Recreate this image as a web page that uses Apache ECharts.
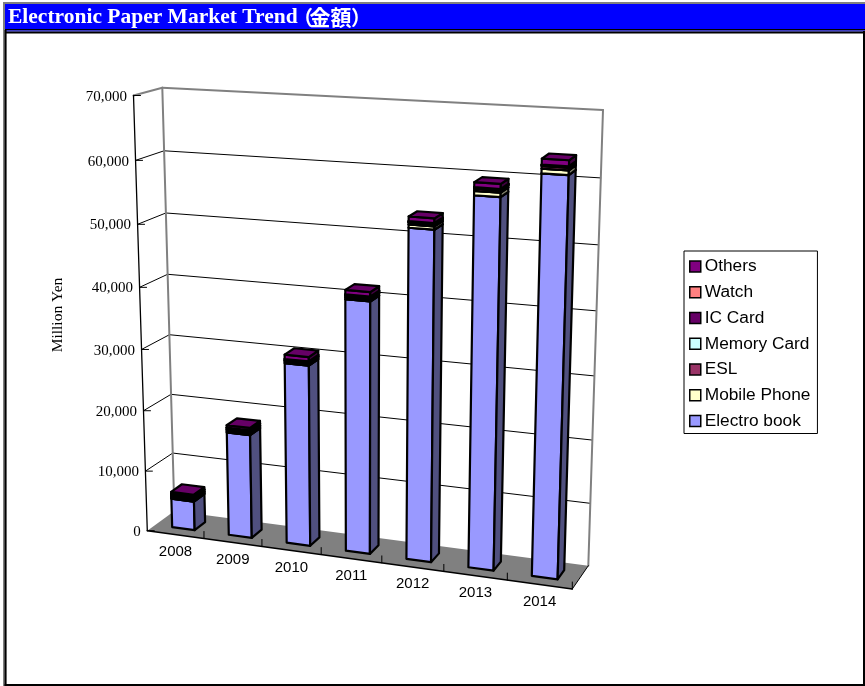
<!DOCTYPE html>
<html>
<head>
<meta charset="utf-8">
<title>Electronic Paper Market Trend</title>
<style>
  html, body { margin: 0; padding: 0; background: #fff; }
  #chart { width: 865px; height: 686px; }
</style>
<script src="https://cdn.jsdelivr.net/npm/echarts@6/dist/echarts.min.js"></script>
</head>
<body>
<div id="chart"></div>
<script>
// Market data, Million Yen
const years = ['2008', '2009', '2010', '2011', '2012', '2013', '2014'];
const electroBook = [4800, 17000, 29300, 40300, 52100, 57700, 61600];
const mobilePhone = [200, 200, 200, 300, 500, 650, 700];
const esl = [200, 200, 200, 250, 300, 350, 400];
const memoryCard = [100, 100, 40, 40, 40, 30, 30];
const icCard = [250, 250, 200, 150, 150, 150, 150];
const watch = [65, 40, 15, 15, 20, 20, 20];
const others = [350, 400, 700, 700, 700, 750, 870];
const valueTicks = [0, 10000, 20000, 30000, 40000, 50000, 60000, 70000];

// Stack order, bottom to top: [name, values, front colour, side colour, top colour]
const layers = [
  ['Electro book', electroBook, '#9999FF', '#50507F', '#8080D8'],
  ['Mobile Phone', mobilePhone, '#FFFFCC', '#80806A', '#E6E6B0'],
  ['ESL', esl, '#993366', '#4D1933', '#802B55'],
  ['Memory Card', memoryCard, '#CCFFFF', '#6A8080', '#B0E6E6'],
  ['IC Card', icCard, '#660066', '#330033', '#550055'],
  ['Watch', watch, '#FF8080', '#804040', '#E06C6C'],
  ['Others', others, '#800080', '#400040', '#660066']
];

// Box corners on screen: F/B front/back, L/R left/right, B/T bottom/top
const FLB = [147.3, 530.7], FLT = [133.5, 95.5], BLB = [174.4, 511], BLT = [162.3, 87.7];
const FRB = [572.3, 589], FRT = [586, 122], BRB = [588.3, 565.7], BRT = [603, 110];
const PERSPECTIVE_U = 0.083, PERSPECTIVE_T = 0.051;
const BAR_LO = 0.3, BAR_HI = 0.7;

function warp(a, c) { return a / (1 + c * (1 - a)); }
function mix(p, q, k) { return [p[0] + (q[0] - p[0]) * k, p[1] + (q[1] - p[1]) * k]; }

// Maps unit box coordinates (across, depth, height) to the screen
function project(u, w, t) {
  const a = warp(u, PERSPECTIVE_U), h = warp(t, PERSPECTIVE_T);
  const fb = mix(FLB, FRB, a), ft = mix(FLT, FRT, a);
  const bb = mix(BLB, BRB, a), bt = mix(BLT, BRT, a);
  return mix(mix(fb, ft, h), mix(bb, bt, h), w);
}

// Pixel position from the axes, converted to unit box coordinates
function unitOf(api, params, cat, value, frac) {
  const p = api.coord([cat, value]);
  const band = api.size([1, 0])[0];
  const r = params.coordSys;
  return {
    u: (p[0] - band / 2 + band * frac - r.x) / r.width,
    t: (r.y + r.height - p[1]) / r.height
  };
}

function poly(points, fill, stroke, lineWidth) {
  return {
    type: 'polygon',
    shape: { points },
    style: { fill, stroke: stroke || null, lineWidth: lineWidth || 0, lineJoin: 'round' }
  };
}
function line(a, b, stroke, lineWidth) {
  return {
    type: 'line',
    shape: { x1: a[0], y1: a[1], x2: b[0], y2: b[1] },
    style: { stroke, lineWidth, lineCap: 'round' }
  };
}
function label(x, y, text, font, align) {
  return {
    type: 'text',
    style: { x, y, text, font, fill: '#000', textAlign: align, textVerticalAlign: 'middle' }
  };
}

const SERIF = '"Liberation Serif", "Times New Roman", serif';
const SANS = '"Liberation Sans", Arial, sans-serif';

// Walls, floor, gridlines, ticks and axis labels
function renderFrame(params, api) {
  const kids = [];
  const GRAY = '#808080';
  kids.push(poly([project(0, 0, 0), project(1, 0, 0), project(1, 1, 0), project(0, 1, 0)], GRAY));
  valueTicks.forEach(function (v) {
    const t = unitOf(api, params, 0, v, 0).t;
    const front = project(0, 0, t), back = project(0, 1, t), right = project(1, 1, t);
    const top = v === valueTicks[valueTicks.length - 1];
    if (v !== 0) {
      kids.push(line(front, back, top ? GRAY : '#000', top ? 2 : 1));
      kids.push(line(back, right, top ? GRAY : '#000', top ? 2 : 1));
    }
    kids.push(line(front, [front[0] + 7, front[1]], '#000', 1));
    kids.push(label(front[0] - 6.5, front[1] + 1.2, v.toLocaleString('en-US'), '15px ' + SERIF, 'right'));
  });
  kids.push(line(project(0, 1, 0), project(0, 1, 1), GRAY, 2));
  kids.push(line(project(1, 1, 0), project(1, 1, 1), GRAY, 2));
  kids.push(line(project(0, 0, 0), project(0, 0, 1), '#000', 1.3));
  kids.push(line(project(0, 0, 0), project(1, 0, 0), '#000', 1.5));
  kids.push(line(project(1, 0, 0), project(1, 1, 0), '#000', 1));
  years.forEach(function (y, i) {
    const end = project(unitOf(api, params, i, 0, 1).u, 0, 0);
    kids.push(line(end, [end[0], end[1] - 7], '#000', 1));
    const mid = project(unitOf(api, params, i, 0, 0.5).u, 0, 0);
    kids.push(label(mid[0], mid[1] + 17, y, '15px ' + SANS, 'center'));
  });
  return { type: 'group', children: kids };
}

// One stack segment as a box: front, side and top faces
function renderSegment(layer) {
  return function (params, api) {
    const cat = api.value(0);
    const lo = unitOf(api, params, cat, api.value(1), BAR_LO);
    const hi = unitOf(api, params, cat, api.value(2), BAR_HI);
    const u0 = lo.u, u1 = hi.u, t0 = lo.t, t1 = hi.t;
    const STROKE = 2.2;
    return {
      type: 'group',
      children: [
        poly([project(u0, BAR_LO, t0), project(u1, BAR_LO, t0), project(u1, BAR_LO, t1), project(u0, BAR_LO, t1)], layer[2], '#000', STROKE),
        poly([project(u1, BAR_LO, t0), project(u1, BAR_HI, t0), project(u1, BAR_HI, t1), project(u1, BAR_LO, t1)], layer[3], '#000', STROKE),
        poly([project(u0, BAR_LO, t1), project(u1, BAR_LO, t1), project(u1, BAR_HI, t1), project(u0, BAR_HI, t1)], layer[4], '#000', STROKE)
      ]
    };
  };
}

const running = years.map(function () { return 0; });
const segmentSeries = layers.map(function (layer, k) {
  const data = layer[1].map(function (v, i) {
    const row = [i, running[i], running[i] + v];
    running[i] += v;
    return row;
  });
  return {
    type: 'custom',
    name: layer[0],
    data,
    encode: { x: 0, y: [1, 2] },
    renderItem: renderSegment(layer),
    itemStyle: { color: layer[2] },
    z: 5 + k,
    silent: true
  };
});

function band(x, y, width, height, fill) {
  return { type: 'rect', shape: { x, y, width, height }, style: { fill }, silent: true };
}

const CJK_TITLE = '"Noto Sans CJK JP", sans-serif';
const chart = echarts.init(document.getElementById('chart'), null, { renderer: 'canvas' });
chart.setOption({
  animation: false,
  backgroundColor: '#fff',
  title: {
    text: 'Electronic Paper Market Trend{open|（}{kanji|金額}{close|）}',
    left: 8,
    top: 6,
    padding: 0,
    textStyle: {
      color: '#fff',
      fontSize: 21.5,
      fontWeight: 'bold',
      fontFamily: '"Liberation Serif", serif',
      rich: {
        open: { color: '#fff', fontFamily: CJK_TITLE, fontWeight: 'bold', fontSize: 20, width: 11, align: 'right' },
        kanji: { color: '#fff', fontFamily: CJK_TITLE, fontWeight: 'bold', fontSize: 21, padding: [0, 0, 0, 1] },
        close: { color: '#fff', fontFamily: CJK_TITLE, fontWeight: 'bold', fontSize: 20, width: 13, padding: [0, 0, 0, 3], align: 'left' }
      }
    }
  },
  graphic: [
    band(3, 2, 862, 2, '#808080'),
    band(3, 2, 2, 684, '#808080'),
    band(5, 4, 860, 25, '#0000FF'),
    band(5, 29, 860, 1.4, '#000'),
    band(5, 30.4, 860, 1.2, '#0000FF'),
    band(5, 31.6, 860, 2, '#000'),
    band(4.6, 30, 2, 656, '#000'),
    band(863, 31, 2, 655, '#000'),
    band(4.6, 684, 860.4, 2, '#000'),
    {
      type: 'text',
      x: 58,
      y: 315,
      rotation: Math.PI / 2,
      silent: true,
      style: {
        text: 'Million Yen',
        font: '15.5px ' + SERIF,
        fill: '#000',
        textAlign: 'center',
        textVerticalAlign: 'middle'
      }
    }
  ],
  legend: {
    orient: 'vertical',
    left: 684,
    top: 251,
    padding: [7, 7, 4, 5],
    itemWidth: 11,
    itemHeight: 11,
    itemGap: 8.75,
    selectedMode: false,
    backgroundColor: '#fff',
    borderColor: '#000',
    borderWidth: 1,
    borderRadius: 0,
    icon: 'rect',
    itemStyle: { borderColor: '#000', borderWidth: 1.5 },
    textStyle: { fontFamily: SANS, fontSize: 17.3, color: '#000', padding: [0, 0, 0, -1] },
    data: layers.map(function (l) { return l[0]; }).reverse()
  },
  grid: { left: 140, right: 260, top: 90, bottom: 100 },
  xAxis: { type: 'category', data: years, show: false },
  yAxis: { type: 'value', min: 0, max: 70000, interval: 10000, show: false },
  series: [{
    type: 'custom',
    name: 'frame',
    data: [[0, 0]],
    renderItem: renderFrame,
    z: 1,
    silent: true
  }].concat(segmentSeries)
});
</script>
</body>
</html>
